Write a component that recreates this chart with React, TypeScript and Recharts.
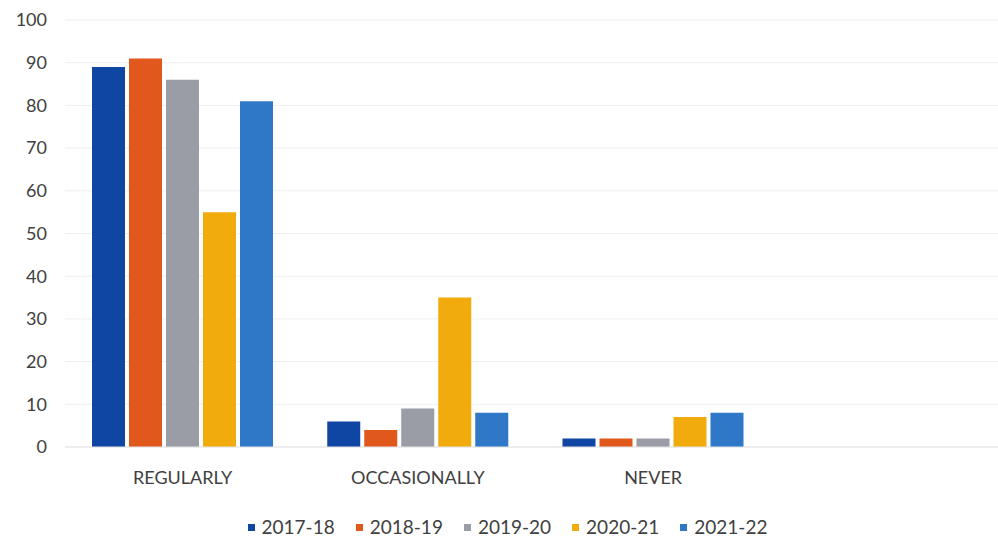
import React from "react";
import { BarChart, Bar, XAxis, YAxis, CartesianGrid, Legend } from "recharts";

const categories = ["REGULARLY", "OCCASIONALLY", "NEVER", ""];
const series = ["2017-18", "2018-19", "2019-20", "2020-21", "2021-22"];
const v2017 = [89, 6, 2, null];
const v2018 = [91, 4, 2, null];
const v2019 = [86, 9, 2, null];
const v2020 = [55, 35, 7, null];
const v2021 = [81, 8, 8, null];
const yTicks = [0, 10, 20, 30, 40, 50, 60, 70, 80, 90, 100];
const colors = ["#0f45a3", "#e0581c", "#9a9da6", "#f2ab0c", "#2f78c8"];

const allValues = [v2017, v2018, v2019, v2020, v2021];
const data = categories.map((c, i) => {
  const row: any = { name: c };
  series.forEach((s, j) => {
    row[s] = allValues[j][i];
  });
  return row;
});

const FONT = "Lato, 'Open Sans', sans-serif";

const LegendContent = () => (
  <div
    style={{
      display: "flex",
      justifyContent: "center",
      gap: 21,
      fontFamily: FONT,
      fontSize: 19,
      lineHeight: "24px",
      color: "#404040",
      paddingLeft: 8,
    }}
  >
    {series.map((s, i) => (
      <div key={s} style={{ display: "flex", alignItems: "center" }}>
        <span
          style={{
            display: "inline-block",
            width: 7,
            height: 7,
            background: colors[i],
            marginRight: 7,
          }}
        />
        <span>{s}</span>
      </div>
    ))}
  </div>
);

export default function App() {
  return (
    <div
      style={{
        position: "absolute",
        left: 0,
        top: 0,
        width: 998,
        height: 544,
        overflow: "hidden",
        background: "#fff",
      }}
    >
      <BarChart
        width={1010}
        height={544}
        data={data}
        margin={{ top: 20, right: 4, left: 1, bottom: 0 }}
        barGap={4}
        barCategoryGap={27}
      >
        <CartesianGrid vertical={false} stroke="#efefef" />
        <XAxis
          dataKey="name"
          axisLine={{ stroke: "#e4e4e4" }}
          tickLine={false}
          tickSize={0}
          tickMargin={24}
          height={68}
          tick={{ fill: "#404040", fontSize: 18, fontFamily: FONT }}
          interval={0}
        />
        <YAxis
          domain={[0, 100]}
          ticks={yTicks}
          axisLine={false}
          tickLine={false}
          tickSize={0}
          tickMargin={18}
          width={64}
          tick={{ fill: "#404040", fontSize: 18, fontFamily: FONT }}
        />
        <Legend
          verticalAlign="bottom"
          height={29}
          content={<LegendContent />}
        />
        {series.map((s, i) => (
          <Bar key={s} dataKey={s} fill={colors[i]} isAnimationActive={false} />
        ))}
      </BarChart>
    </div>
  );
}
